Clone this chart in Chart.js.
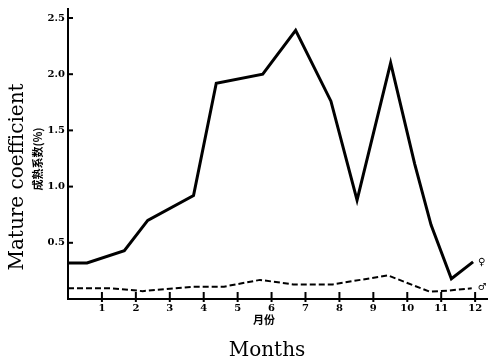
<!DOCTYPE html>
<html>
<head>
<meta charset="utf-8">
<script src="https://cdn.jsdelivr.net/npm/chart.js@4.4.0/dist/chart.umd.min.js"></script>
<style>
  html, body { margin: 0; padding: 0; background: #fff; }
  #wrap { width: 489px; height: 362px; }
</style>
</head>
<body>
<div id="wrap"><canvas id="chart" width="489" height="362"></canvas></div>
<script>
// female (solid) and male (dashed) mature coefficient
var femaleMonths = [0, 0.56, 1.66, 2.35, 3.7, 4.37, 5.74, 6.71, 7.75, 8.52, 9.51, 10.22, 10.7, 11.3, 11.94];
var femaleValues = [0.32, 0.32, 0.43, 0.70, 0.92, 1.92, 2.00, 2.39, 1.76, 0.88, 2.10, 1.20, 0.66, 0.18, 0.33];
var maleMonths = [0, 1.3, 2.2, 3.7, 4.6, 5.66, 6.64, 7.8, 9.43, 10.66, 11.2, 11.9];
var maleValues = [0.095, 0.095, 0.07, 0.11, 0.11, 0.17, 0.13, 0.13, 0.21, 0.065, 0.075, 0.095];
var monthTicks = [1, 2, 3, 4, 5, 6, 7, 8, 9, 10, 11, 12];
var valueTicks = [0.5, 1.0, 1.5, 2.0, 2.5];

function pts(xs, ys) {
    let set = [];
    for (let i = 0; i < xs.length; i++) {
        set.push({x: xs[i], y: ys[i]});
    }
    return set;
}

var extras = {
    id: 'extras',
    afterDraw(chart) {
        const c = chart.ctx, xs = chart.scales.x, ys = chart.scales.y;
        c.save();
        c.strokeStyle = '#000';
        c.lineWidth = 2;
        // tick marks pointing into the plot
        valueTicks.forEach(v => {
            let p = ys.getPixelForValue(v);
            c.beginPath(); c.moveTo(xs.left, p); c.lineTo(xs.left + 5, p); c.stroke();
        });
        monthTicks.forEach(m => {
            let p = xs.getPixelForValue(m);
            c.beginPath(); c.moveTo(p, ys.bottom - 7); c.lineTo(p, ys.bottom + 3); c.stroke();
        });
        c.fillStyle = '#000';
        // sex symbols at line ends
        c.font = 'bold 10px "DejaVu Sans"';
        c.textAlign = 'left'; c.textBaseline = 'middle';
        let fl = femaleMonths.length - 1, ml = maleMonths.length - 1;
        c.fillText('\u2640', xs.getPixelForValue(femaleMonths[fl]) + 5, ys.getPixelForValue(femaleValues[fl]));
        c.fillText('\u2642', xs.getPixelForValue(maleMonths[ml]) + 6, ys.getPixelForValue(maleValues[ml]) - 1);
        // axis titles
        c.textAlign = 'center';
        c.font = 'bold 11px "Noto Sans CJK SC"';
        c.fillText('月份', 264, 320);
        c.font = '20px "DejaVu Serif"';
        c.fillText('Months', 267, 351);
        c.save();
        c.translate(18, 177);
        c.rotate(-Math.PI / 2);
        c.fillText('Mature coefficient', 0, 0);
        c.restore();
        c.save();
        c.translate(38, 159);
        c.rotate(-Math.PI / 2);
        c.font = 'bold 11px "Noto Sans CJK SC"';
        c.fillText('成熟系数(%)', 0, 0);
        c.restore();
        c.restore();
    }
};

var ctx = document.getElementById("chart").getContext('2d');
var mychart = new Chart(ctx, {
    type: 'line',
    data: {
        datasets: [{
            label: "\u2640",
            data: pts(femaleMonths, femaleValues),
            borderColor: '#000',
            borderWidth: 3,
            pointRadius: 0,
            tension: 0,
            fill: false
        },
        {
            label: "\u2642",
            data: pts(maleMonths, maleValues),
            borderColor: '#000',
            borderWidth: 2,
            borderDash: [6, 3],
            pointRadius: 0,
            tension: 0,
            fill: false
        }]
    },
    options: {
        responsive: false,
        animation: false,
        layout: { padding: { top: 5, right: 2, left: 0, bottom: 0 } },
        plugins: { legend: { display: false }, tooltip: { enabled: false } },
        scales: {
            x: {
                type: 'linear',
                min: 0,
                max: 12.35,
                afterFit: s => { s.height = 63; },
                afterBuildTicks: s => { s.ticks = monthTicks.map(v => ({value: v})); },
                grid: { display: false, drawTicks: false },
                border: { color: '#000', width: 2 },
                ticks: {
                    color: '#000',
                    padding: 3,
                    maxRotation: 0,
                    font: { family: 'DejaVu Serif', size: 10, weight: 'bold' },
                    callback: v => String(v)
                }
            },
            y: {
                type: 'linear',
                min: 0,
                max: 2.58,
                afterFit: s => { s.width = 68; },
                afterBuildTicks: s => { s.ticks = valueTicks.map(v => ({value: v})); },
                grid: { display: false, drawTicks: false },
                border: { color: '#000', width: 2 },
                ticks: {
                    color: '#000',
                    padding: 3,
                    font: { family: 'DejaVu Serif', size: 10, weight: 'bold' },
                    callback: v => v.toFixed(1)
                }
            }
        }
    },
    plugins: [extras]
});
</script>
</body>
</html>
